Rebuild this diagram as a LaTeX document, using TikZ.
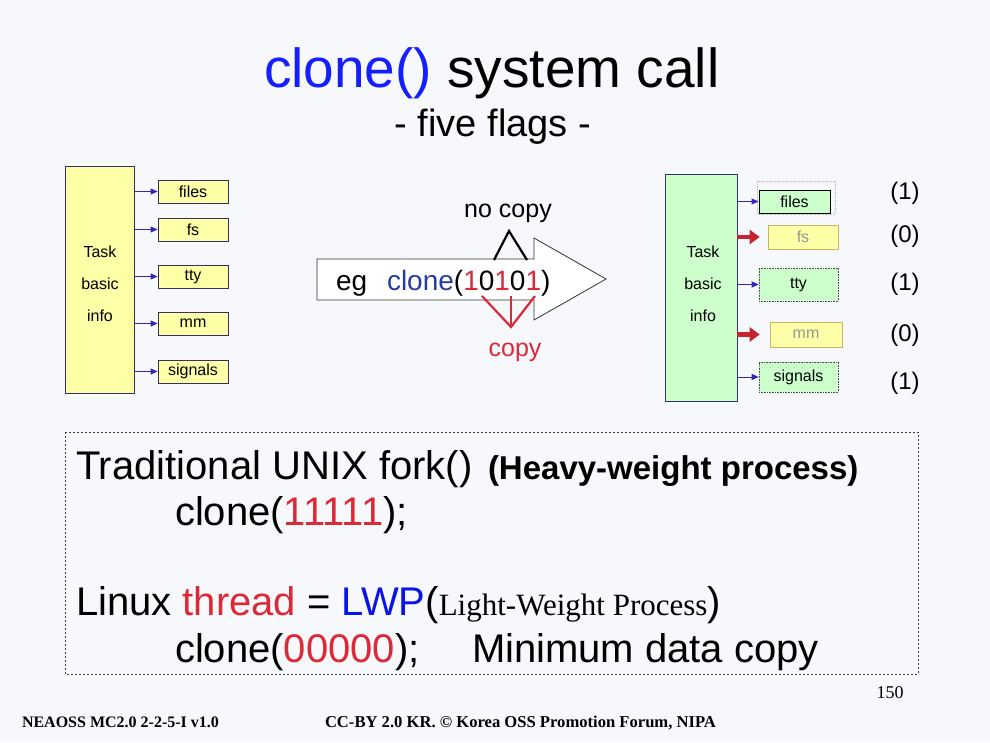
\documentclass[tikz,border=0pt]{standalone}
\usepackage{fontspec}
\setmainfont{Liberation Sans}
\newfontfamily\tms{Liberation Serif}
\usetikzlibrary{arrows.meta}

\definecolor{pagebg}{RGB}{247,248,252}
\definecolor{titleblue}{RGB}{20,30,255}
\definecolor{callblue}{RGB}{40,60,160}
\definecolor{lwpblue}{RGB}{10,20,230}
\definecolor{flagred}{RGB}{220,40,55}
\definecolor{boxyellow}{RGB}{255,255,168}
\definecolor{boxgreen}{RGB}{204,255,204}
\definecolor{linkblue}{RGB}{50,40,180}
\definecolor{frameblue}{RGB}{50,50,100}
\definecolor{tanline}{RGB}{200,180,100}
\definecolor{dimtext}{RGB}{150,150,150}

\newcommand{\fs}[1]{\fontsize{#1}{#1}\selectfont}

\tikzset{
  txt/.style={inner sep=0pt, outer sep=0pt},
  tasktext/.style={txt, align=center, font={\fontsize{16}{32}\selectfont}},
  bigbox/.style={draw=frameblue, line width=0.8pt, minimum width=#1, minimum height=227pt, inner sep=0pt},
  ybox/.style={draw=frameblue, fill=boxyellow, line width=0.8pt, minimum width=70pt, minimum height=23pt, inner sep=0pt, font=\fs{16}},
  gbox/.style={fill=boxgreen, draw=black!70, densely dotted, line width=0.6pt, inner sep=0pt, font=\fs{16}},
  offbox/.style={fill=boxyellow, draw=tanline, line width=0.6pt, inner sep=0pt, text=dimtext, font=\fs{16}},
  link/.style={draw=linkblue, line width=1pt, -{Triangle[length=7pt,width=6pt]}},
  cut/.style={draw=flagred!90!black, line width=4.5pt, -{Triangle[length=10pt,width=14pt]}},
  flag/.style={txt, font=\fs{24}},
}

\begin{document}
\begin{tikzpicture}[x=1pt, y=-1pt]
  \fill[pagebg] (0,0) rectangle (990,742);
  \useasboundingbox (0,0) rectangle (990,742);

  % heading
  \node[txt, anchor=base west] (title) at (264,87)
    {\fs{55}\textcolor{titleblue}{clone()} system call};
  \node[txt, anchor=base] (subtitle) at (493,136) {\fs{38}- five flags -};

  % parent task with its five resources
  \node[bigbox=69pt, fill=boxyellow] (L) at (99.5,279.5) {};
  \node[tasktext] (Ltext) at (100,284) {Task\\basic\\info};
  \node[ybox] (Lfiles)   at (193,191.5) {files};
  \node[ybox] (Lfs)      at (193,229.5) {fs};
  \node[ybox] (Ltty)     at (193,276.5) {tty};
  \node[ybox] (Lmm)      at (193,323.5) {mm};
  \node[ybox] (Lsignals) at (193,371.5) {signals};
  \foreach \b in {Lfiles,Lfs,Ltty,Lmm,Lsignals}
    \draw[link] (L.east |- \b.west) -- (\b.west);

  % the clone arrow
  \draw[black!80, fill=white, line width=0.8pt]
    (317,259) -- (534,259) -- (534,238) -- (606,279) -- (534,320)
    -- (534,300) -- (317,300) -- cycle;
  \node[txt, anchor=base west] (eg) at (336,290) {\fs{28}eg};
  \node[txt, anchor=base west] (call) at (387,290)
    {\fs{28}\textcolor{callblue}{clone}(\textcolor{flagred}{1}0\textcolor{flagred}{1}0\textcolor{flagred}{1})};

  \node[txt, font=\fs{25}] (nocopy) at (508,213) {no copy};
  \coordinate (na) at (509,231);
  \coordinate (n1) at (494,260);
  \coordinate (n2) at (527,260);
  \draw[black, line width=2.2pt] (n1) -- (na) -- (n2);

  \node[txt, font=\fs{25}, text=flagred] (copy) at (515,352) {copy};
  \coordinate (ca) at (511,327);
  \coordinate (c1) at (482,296);
  \coordinate (c2) at (511,296);
  \coordinate (c3) at (535,296);
  \draw[flagred, line width=2.2pt] (c1) -- (ca) -- (c3);
  \draw[flagred, line width=2.2pt] (c2) -- (ca);

  % child task after clone(10101)
  \node[bigbox=72pt, fill=boxgreen] (R) at (701,287.5) {};
  \node[tasktext] (Rtext) at (703,284) {Task\\basic\\info};
  \draw[black!25, densely dotted, line width=0.6pt] (757,181) rectangle (835,214);
  \node[fill=boxgreen, draw=black, line width=1pt, minimum width=71pt, minimum height=23pt,
        inner sep=0pt, font=\fs{16}] (Rfiles) at (794.5,201.5) {files};
  \node[offbox, minimum width=70pt, minimum height=24pt] (Rfs) at (803,237) {fs};
  \node[gbox, minimum width=79pt, minimum height=33pt] (Rtty) at (798.5,284.5) {tty};
  \node[offbox, minimum width=72pt, minimum height=25pt] (Rmm) at (806,334.5) {mm};
  \node[gbox, minimum width=79pt, minimum height=30pt] (Rsignals) at (798.5,377) {signals};

  \draw[link] (R.east |- Rfiles.west) -- (Rfiles.west);
  \draw[link] (R.east |- Rtty.west) -- (Rtty.west);
  \draw[link] (R.east |- Rsignals.west) -- (Rsignals.west);
  \draw[cut] (R.east |- Rfs.west) -- ([xshift=-8pt]Rfs.west);
  \draw[cut] (R.east |- Rmm.west) -- ([xshift=-10pt]Rmm.west);

  \node[flag] (f1) at (905,193) {(1)};
  \node[flag] (f2) at (905,236) {(0)};
  \node[flag] (f3) at (905,284) {(1)};
  \node[flag] (f4) at (905,335) {(0)};
  \node[flag] (f5) at (905,383) {(1)};

  % summary panel
  \draw[black!75, line width=0.7pt, dash pattern=on 2pt off 2pt] (65,432) rectangle (918,674);
  \node[txt, anchor=base west] (fork) at (76,479) {\fs{40}Traditional UNIX fork()};
  \node[txt, anchor=base west] (heavy) at (488,479) {\fs{33}\bfseries (Heavy-weight process)};
  \node[txt, anchor=base west] (all) at (175,525)
    {\fs{40}clone(\textcolor{flagred}{11111});};
  \node[txt, anchor=base west] (lwp) at (76,615)
    {\fs{40}Linux \textcolor{flagred}{thread} = \textcolor{lwpblue}{LWP}({\tms\fs{31}Light-Weight Process})};
  \node[txt, anchor=base west] (none) at (175,662)
    {\fs{40}clone(\textcolor{flagred}{00000});};
  \node[txt, anchor=base west] (minimum) at (472,662) {\fs{40}Minimum data copy};

  % footer
  \node[txt, anchor=base] (page) at (890,698) {\tms\fs{18}150};
  \node[txt, anchor=base west] (doc) at (22,727) {\tms\bfseries\fs{16}NEAOSS MC2.0 2-2-5-I v1.0};
  \node[txt, anchor=base west] (lic) at (325,727)
    {\tms\bfseries\fs{16.6}CC-BY 2.0 KR. \textcopyright\ Korea OSS Promotion Forum, NIPA};
\end{tikzpicture}
\end{document}
